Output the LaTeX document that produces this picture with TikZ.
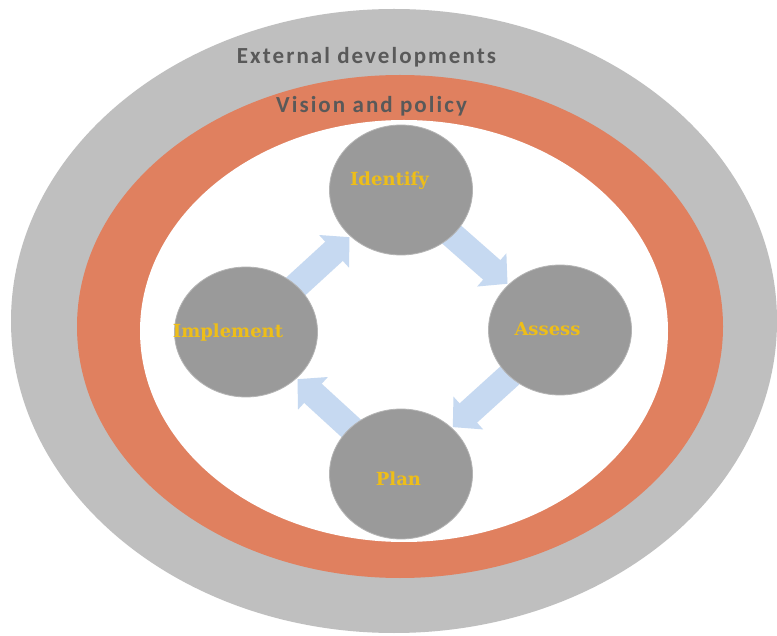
\documentclass[tikz,border=0pt]{standalone}
\usepackage{fontspec}
\usetikzlibrary{shapes.geometric,arrows.meta}
\newfontfamily\ringfont[LetterSpace=9]{Carlito}
\newfontfamily\stepfont{DejaVu Serif}
\definecolor{ringgray}{HTML}{BFBFBF}
\definecolor{ringorange}{HTML}{E0805F}
\definecolor{stepgray}{HTML}{9A9A9A}
\definecolor{stepedge}{HTML}{B4B4B4}
\definecolor{arrowblue}{HTML}{C6D9F1}
\definecolor{labelgold}{HTML}{EEBE18}
\definecolor{ringtext}{HTML}{595959}
\pgfdeclarelayer{bg}
\pgfsetlayers{bg,main}
\tikzset{
  stepcircle/.style={ellipse, fill=stepgray, draw=stepedge, line width=0.8pt,
    minimum width=143pt, minimum height=130pt, inner sep=0pt, outer sep=0pt},
  steplabel/.style={anchor=base, text=labelgold, inner sep=0pt,
    font=\stepfont\bfseries\fontsize{18}{21}\selectfont},
  ringlabel/.style={anchor=base, text=ringtext, inner sep=0pt,
    font=\ringfont\bfseries\fontsize{23}{27}\selectfont},
  cyclearrow/.style={draw=arrowblue, line width=26pt,
    -{Triangle[length=21pt,width=43pt,fill=arrowblue]}, shorten >=1.5pt}
}
\begin{document}
\begin{tikzpicture}[x=1pt,y=-1pt]
\useasboundingbox (0,0) rectangle (777,636);
% step circles
\node[stepcircle] (ident) at (401,190) {};
\node[stepcircle] (impl) at (246,332) {};
\node[stepcircle] (assess) at (560,330) {};
\node[stepcircle] (plan) at (401,474) {};
\begin{pgfonlayer}{bg}
  \fill[white] (0,0) rectangle (777,636);
  \fill[ringgray] (394,321) ellipse [x radius=383pt, y radius=312pt];
  \fill[ringorange] (400,326.5) ellipse [x radius=323pt, y radius=251.5pt];
  \fill[white] (404,331) ellipse [x radius=264pt, y radius=211pt];
  \draw[cyclearrow] (impl.center) -- (ident);
  \draw[cyclearrow] (ident.center) -- (assess);
  \draw[cyclearrow] (assess.center) -- (plan);
  \draw[cyclearrow] (plan.center) -- (impl);
\end{pgfonlayer}
% labels
\node[ringlabel] (extT) at (366.5,64) {External developments};
\node[ringlabel] (visT) at (371.5,113) {Vision and policy};
\node[steplabel] (identT) at (389.5,186) {Identify};
\node[steplabel] (implT) at (228,338) {Implement};
\node[steplabel] (assessT) at (547.5,336) {Assess};
\node[steplabel] (planT) at (398.5,485) {Plan};
\end{tikzpicture}
\end{document}
